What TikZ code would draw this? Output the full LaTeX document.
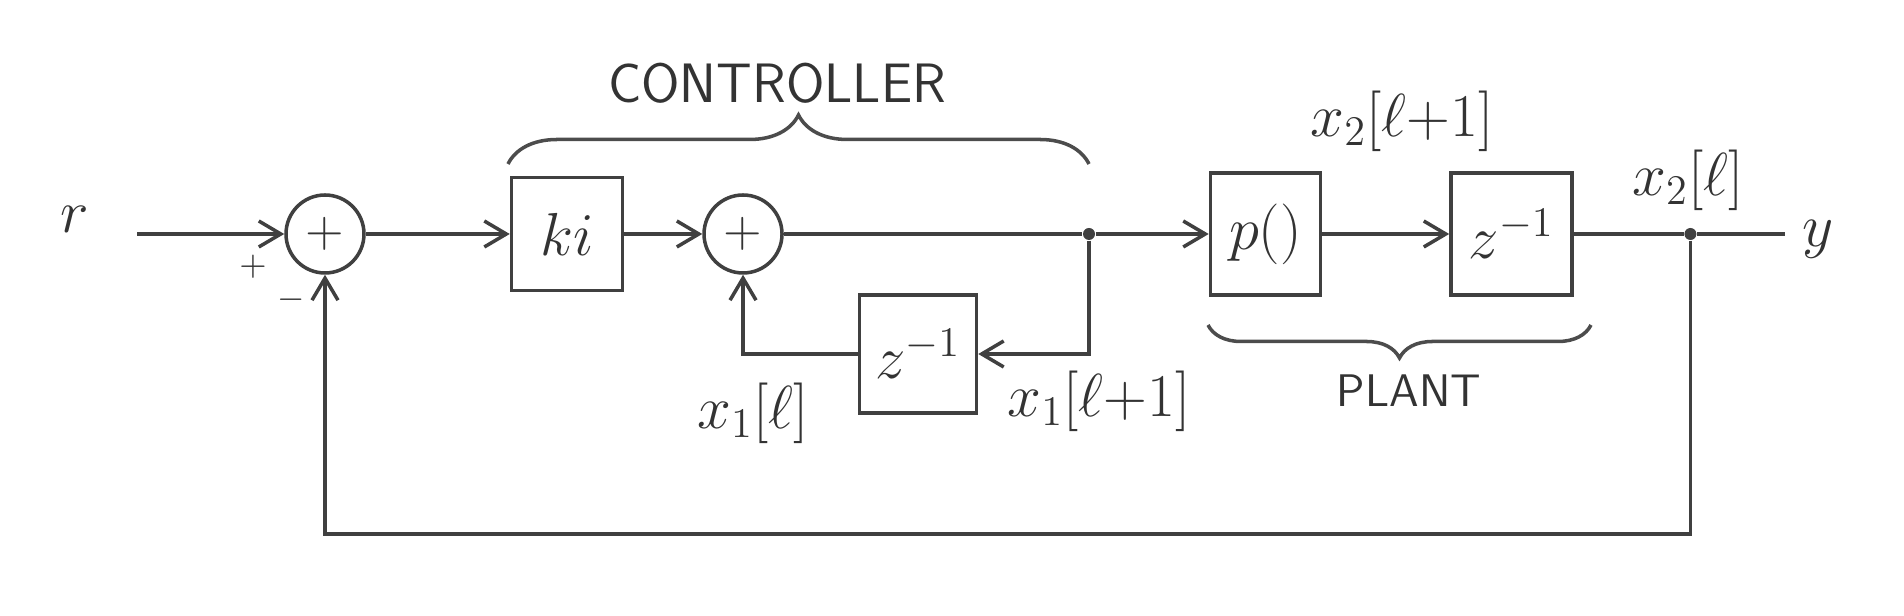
\documentclass[tikz,border=0pt]{standalone}
\usetikzlibrary{positioning}
\usetikzlibrary{arrows.meta,decorations.pathreplacing}
\tikzstyle{bloc}=[
  draw=black!75,
  line width=1pt,
  inner sep=0pt,
  text=black!80,
  font=\LARGE
]
\tikzstyle{somme}=[
  draw=black!75,
  line width=1pt,
  circle,
  inner sep=0pt,
  minimum size=7.8mm,
  text=black!80,
  font=\Large
]
\tikzstyle{signal}=[
  draw=black!75,
  line width=1pt,
  >={Straight Barb[length=2.2mm,width=2.6mm]}
]
\tikzstyle{etiquette}=[
  text=black!80,
  font=\LARGE
]
\tikzstyle{jonction}=[
  circle,
  fill=black!75,
  inner sep=0pt,
  minimum size=1.2mm
]
\tikzstyle{accolade}=[
  draw=black!70,
  line width=1pt,
  decorate
]

\begin{document}
\begin{tikzpicture}[node distance=1cm]
    \useasboundingbox (0,0) rectangle (19.04,-6.16);
    % chaine directe
    \node[somme] (somme1) at (3.25,-2.34) {$+$};
    \node[bloc,minimum width=11.1mm,minimum height=11.3mm,right=1.44cm of somme1] (gain) {$ki$};
    \node[somme,right=0.78cm of gain] (somme2) {$+$};
    \node[jonction] (jct1) at (10.89,-2.34) {};
    \node[bloc,minimum width=11mm,minimum height=12.2mm,right=1.13cm of jct1] (plante) {$p()$};
    \node[bloc,minimum width=12.1mm,minimum height=12.2mm,right=1.27cm of plante] (retard2) {$z^{-1}$};
    \node[jonction,right=1.1cm of retard2] (jct2) {};
    \node[bloc,minimum width=11.7mm,minimum height=11.8mm] (retard1) at (9.18,-3.54) {$z^{-1}$};
    % entree, sortie
    \node[etiquette] (r) at (0.75,-2.19) {$r$};
    \coordinate (rin) at (1.37,-2.34);
    \node[etiquette] (y) at (18.18,-2.39) {$y$};
    \coordinate (ysortie) at (17.85,-2.34);
    \coordinate (retour) at (3.25,-5.34);
    \node[etiquette,font=\normalsize] (plus) at (2.53,-2.67) {$+$};
    \node[etiquette,font=\normalsize] (moins) at (2.91,-3.00) {$-$};
    % signaux
    \node[etiquette] (x1l) at (7.53,-4.13) {$x_1[\ell]$};
    \node[etiquette] (x1l1) at (10.99,-4.01) {$x_1[\ell{+}1]$};
    \node[etiquette] (x2l1) at (14.02,-1.21) {$x_2[\ell{+}1]$};
    \node[etiquette] (x2l) at (16.88,-1.80) {$x_2[\ell]$};
    % liaisons
    \draw[signal,->] (rin) -- (somme1);
    \draw[signal,->] (somme1) -- (gain);
    \draw[signal,->] (gain) -- (somme2);
    \draw[signal] (somme2) -- (jct1);
    \draw[signal,->] (jct1) -- (plante);
    \draw[signal,->] (plante) -- (retard2);
    \draw[signal] (retard2) -- (jct2) -- (ysortie);
    \draw[signal,->] (jct1) |- (retard1.east);
    \draw[signal,->] (retard1.west) -| (somme2);
    \draw[signal,->] (jct2) |- (retour) -- (somme1);
    % accolades
    \coordinate (ctrlg) at (5.08,-1.64);
    \coordinate (ctrld) at (10.89,-1.64);
    \draw[accolade,decoration={brace,amplitude=4.9mm}] (ctrlg) -- (ctrld);
    \node[etiquette,font=\fontsize{15.8}{19}\sffamily] (controleur) at (7.77,-0.83) {CONTROLLER};
    \coordinate (plantg) at (12.08,-3.25);
    \coordinate (plantd) at (15.91,-3.25);
    \draw[accolade,decoration={brace,mirror,amplitude=3.3mm}] (plantg) -- (plantd);
    \node[etiquette,font=\fontsize{13}{16}\sffamily] (procede) at (14.09,-3.91) {PLANT};
  \end{tikzpicture}
\end{document}
